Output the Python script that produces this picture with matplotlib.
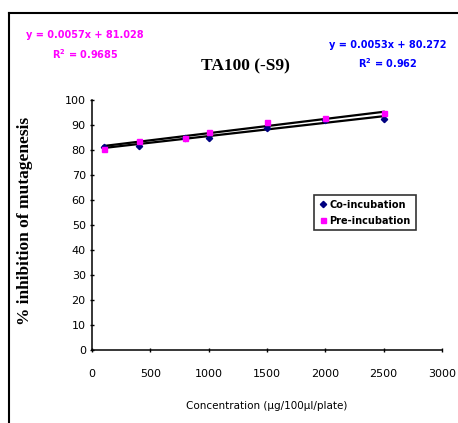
import matplotlib
matplotlib.use("Agg")
import matplotlib.pyplot as plt
from matplotlib.lines import Line2D
import numpy as np

conc_co = [100, 400, 800, 1000, 1500, 2000, 2500]
co_incubation = [81.0, 81.7, 84.6, 84.9, 88.7, 92.0, 92.4]
conc_pre = [100, 400, 800, 1000, 1500, 2000, 2500]
pre_incubation = [80.4, 83.7, 84.9, 87.3, 91.3, 92.7, 94.7]

co_fit = (0.0053, 80.272)
pre_fit = (0.0057, 81.028)

x_ticks = [0, 500, 1000, 1500, 2000, 2500, 3000]
y_ticks = list(range(0, 101, 10))

fig = plt.figure(figsize=(4.58, 4.23), dpi=100)
ax = fig.add_axes([92/458, 1 - 350/423, (442-92)/458, 250/423])

xs = np.array([conc_co[0], conc_co[-1]])
for (m, b) in (co_fit, pre_fit):
    ax.plot(xs, m * xs + b, color="black", lw=1.6, zorder=2)

ax.plot(conc_co, co_incubation, ls="none", marker="D", ms=3.2, color="#000080", zorder=3)
ax.plot(conc_pre, pre_incubation, ls="none", marker="s", ms=3.6, color="#FF00FF", zorder=3)

ax.set_xlim(0, 3000)
ax.set_ylim(0, 100)
ax.set_xticks(x_ticks)
ax.set_yticks(y_ticks)
ax.tick_params(labelsize=8, length=3, width=1, direction="inout", pad=12)
ax.tick_params(axis="y", pad=3)
for s in ("top", "right"):
    ax.spines[s].set_visible(False)
for s in ("left", "bottom"):
    ax.spines[s].set_linewidth(1.1)

fig.text(25/458, 1 - 221/423, "% inhibition of mutagenesis", family="Liberation Serif",
         fontweight="bold", fontsize=12.5, rotation=90, ha="center", va="center")
ax.set_xlabel("Concentration (µg/100µl/plate)", fontsize=7.5, labelpad=16)

fig.text(245/458, 1 - 66/423, "TA100 (-S9)", family="Liberation Serif", fontweight="bold",
         fontsize=12.5, ha="center", va="center")

eq_kw = dict(fontsize=7, fontweight="bold", ha="center", va="center")
fig.text(85/458, 1 - 35/423, "y = 0.0057x + 81.028", color="#FF00FF", **eq_kw)
fig.text(85/458, 1 - 54/423, "R$^\\mathbf{2}$ = 0.9685", color="#FF00FF", **eq_kw)
fig.text(388/458, 1 - 45/423, "y = 0.0053x + 80.272", color="#0000FF", **eq_kw)
fig.text(388/458, 1 - 63/423, "R$^\\mathbf{2}$ = 0.962", color="#0000FF", **eq_kw)

handles = [Line2D([], [], ls="none", marker="D", ms=3.2, color="#000080"),
           Line2D([], [], ls="none", marker="s", ms=3.6, color="#FF00FF")]
leg = ax.legend(handles, ["Co-incubation", "Pre-incubation"], loc="upper left",
                bbox_to_anchor=((309-92)/350, 1 - (190-100)/250),
                prop=dict(size=7, weight="bold"),
                frameon=True, fancybox=False, edgecolor="black", handlelength=0.8,
                handletextpad=0.3, borderpad=0.5, labelspacing=0.6)
leg.get_frame().set_linewidth(1.2)

fig.add_artist(Line2D([8.5/458, 8.5/458], [0, 1 - 13/423], color="black", lw=1.5, transform=fig.transFigure))
fig.add_artist(Line2D([8.5/458, 1], [1 - 13/423, 1 - 13/423], color="black", lw=1.5, transform=fig.transFigure))

fig.savefig("out.png", dpi=100)
